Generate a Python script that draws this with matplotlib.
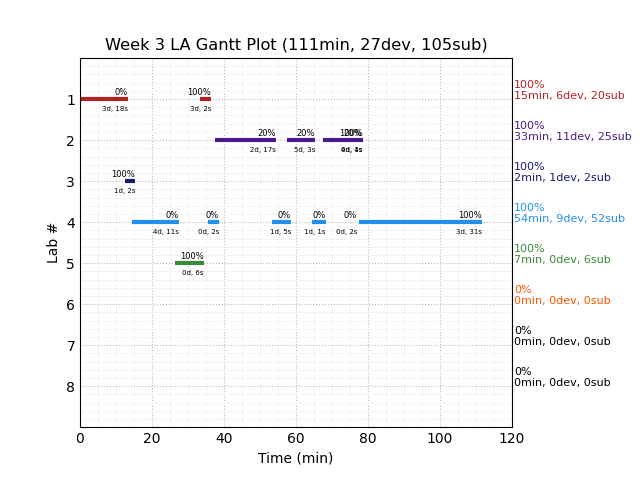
import matplotlib
matplotlib.use('Agg')
import matplotlib.pyplot as plt
from matplotlib.ticker import MultipleLocator

title = 'Week 3 LA Gantt Plot (111min, 27dev, 105sub)'

# one entry per work session: lab, start (min), end (min), percent label, duration label
seg_lab = [1, 1, 2, 2, 2, 2, 3, 4, 4, 4, 4, 4, 4, 5]
seg_start = [0, 33.3, 37.5, 57.5, 67.5, 78.4, 12.5, 14.4, 35.6, 53.3, 64.4, 76.9, 77.5, 26.4]
seg_end = [13.3, 36.4, 54.4, 65.3, 78.3, 78.5, 15.3, 27.5, 38.6, 58.6, 68.3, 76.95, 111.7, 34.4]
seg_pct = ['0%', '100%', '20%', '20%', '20%', '100%', '100%', '0%', '0%', '0%', '0%', '0%', '100%', '100%']
seg_dur = ['3d, 18s', '3d, 2s', '2d, 17s', '5d, 3s', '4d, 1s', '0d, 4s', '1d, 2s',
           '4d, 11s', '0d, 2s', '1d, 5s', '1d, 1s', '0d, 2s', '3d, 31s', '0d, 6s']

labs = [1, 2, 3, 4, 5, 6, 7, 8]
lab_colors = ['#b22222', '#4b1a8a', '#1a1a6e', '#2090f0', '#3a8a3a', '#ff5500', 'black', 'black']
lab_pct = ['100%', '100%', '100%', '100%', '100%', '0%', '0%', '0%']
lab_summary = ['15min, 6dev, 20sub', '33min, 11dev, 25sub', '2min, 1dev, 2sub',
               '54min, 9dev, 52sub', '7min, 0dev, 6sub', '0min, 0dev, 0sub',
               '0min, 0dev, 0sub', '0min, 0dev, 0sub']

fig = plt.figure(figsize=(6.4, 4.8), dpi=100)
ax = fig.add_axes([0.125, 0.11, 0.675, 0.769])

for i in range(len(seg_lab)):
    c = lab_colors[seg_lab[i] - 1]
    ax.plot([seg_start[i], seg_end[i]], [seg_lab[i], seg_lab[i]], color=c,
            linewidth=3, solid_capstyle='butt')
    ax.text(seg_end[i], seg_lab[i] - 0.06, seg_pct[i], ha='right', va='bottom', fontsize=6)
    ax.text(seg_end[i], seg_lab[i] + 0.17, seg_dur[i], ha='right', va='top', fontsize=5)

for i in range(len(labs)):
    ax.text(120.5, labs[i] + 0.05, lab_pct[i] + '\n' + lab_summary[i], color=lab_colors[i],
            ha='left', va='bottom', fontsize=8, clip_on=False)

ax.set_xlim(0, 120)
ax.set_ylim(9, 0)
ax.set_yticks(labs)
ax.xaxis.set_minor_locator(MultipleLocator(5))
ax.yaxis.set_minor_locator(MultipleLocator(0.2))
ax.tick_params(which='both', length=0)
ax.tick_params(labelsize=10)
ax.grid(which='major', color='#bbbbbb', linestyle=':', linewidth=0.8)
ax.grid(which='minor', color='#f2f2f2', linestyle='-', linewidth=0.6)
ax.set_axisbelow(True)
ax.set_xlabel('Time (min)')
ax.set_ylabel('Lab #')
ax.set_title(title, fontsize=11.7)

plt.savefig('out.png')
